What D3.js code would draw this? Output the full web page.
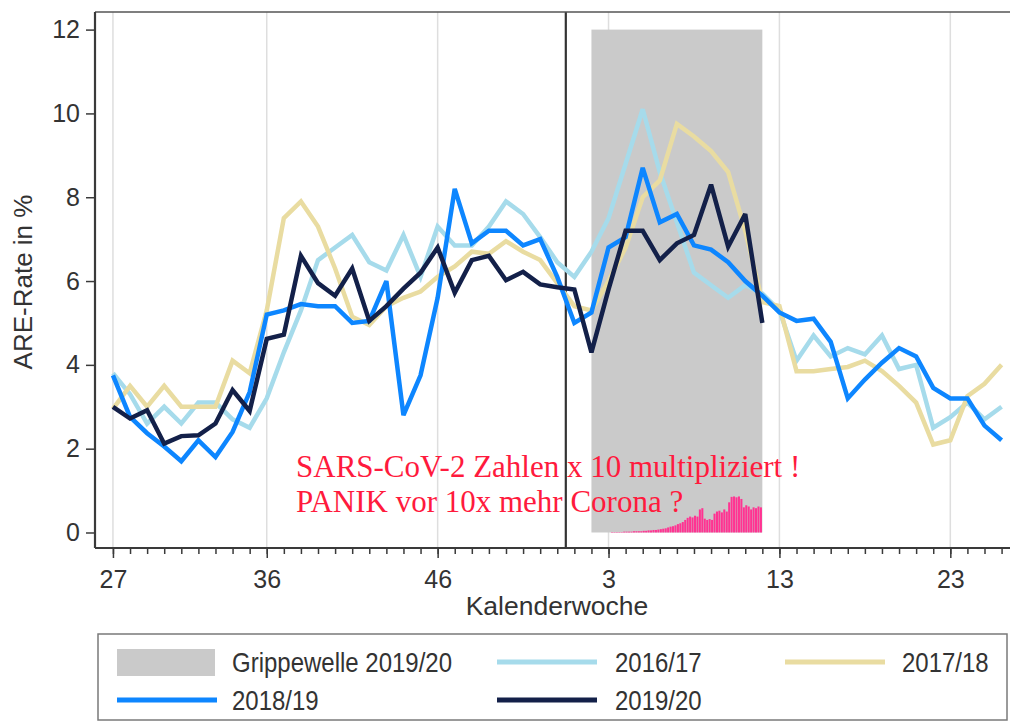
<!DOCTYPE html>
<html><head><meta charset="utf-8">
<script src="https://cdn.jsdelivr.net/npm/d3@7"></script>
<style>body{margin:0;background:#fff}svg{display:block}</style>
</head><body><svg id="c" width="1010" height="722"></svg>
<script>
// Calendar weeks (season runs week 27 .. 53, then 1 .. 26)
const weeks = [27,28,29,30,31,32,33,34,35,36,37,38,39,40,41,42,43,44,45,46,47,48,49,50,51,52,53,
  1,2,3,4,5,6,7,8,9,10,11,12,13,14,15,16,17,18,19,20,21,22,23,24,25,26];
const tickWeeks = [27,36,46,3,13,23];
const yTicks = [0,2,4,6,8,10,12];

const s1617 = [3.8,3.3,2.6,3.0,2.6,3.1,3.1,2.7,2.5,3.2,4.3,5.3,6.5,6.8,7.1,6.45,6.25,7.1,6.1,7.3,6.85,6.85,7.3,7.9,7.6,7.05,6.45,6.1,6.7,7.5,8.8,10.1,8.6,7.4,6.2,5.9,5.6,5.9,5.7,5.3,4.1,4.7,4.2,4.4,4.25,4.7,3.9,4.0,2.5,2.75,3.1,2.7,3.0];
const s1718 = [2.95,3.5,3.0,3.5,3.0,3.0,3.0,4.1,3.8,5.3,7.5,7.9,7.3,6.3,5.15,4.95,5.4,5.6,5.75,6.1,6.35,6.7,6.65,6.95,6.7,6.5,5.95,5.4,5.3,6.0,6.8,8.0,8.4,9.75,9.45,9.1,8.6,7.2,5.5,5.4,3.85,3.85,3.9,3.95,4.1,3.85,3.5,3.1,2.1,2.2,3.25,3.55,4.0];
const s1819 = [3.75,2.76,2.37,2.05,1.7,2.2,1.8,2.4,3.35,5.2,5.3,5.45,5.4,5.4,5.0,5.05,6.0,2.8,3.75,5.6,8.2,6.9,7.2,7.2,6.85,7.0,6.1,5.0,5.25,6.8,7.05,8.7,7.4,7.6,6.85,6.75,6.45,6.0,5.65,5.25,5.05,5.1,4.55,3.2,3.65,4.05,4.4,4.2,3.45,3.2,3.2,2.55,2.2];
const s1920 = [3.0,2.72,2.92,2.12,2.3,2.32,2.6,3.4,2.9,4.62,4.72,6.6,5.95,5.65,6.3,5.05,5.4,5.82,6.2,6.8,5.72,6.5,6.6,6.02,6.22,5.92,5.85,5.8,4.3,5.8,7.2,7.2,6.5,6.9,7.1,8.3,6.82,7.6,5.0];

const seriesNames = ["2016/17","2017/18","2018/19","2019/20"];
const seriesColors = ["#a6dbeb","#e9dca1","#0d86ff","#132049"];

// Grippewelle 2019/20: from week 2 to week 12
const waveWeeks = [2,12];
// Daily SARS-CoV-2 numbers (x10), starting one day after week 3 begins
const covidStartWeek = 3;
const covid = [0.01,0.01,0.01,0.01,0.01,0.02,0.02,0.02,0.02,0.03,0.03,0.03,
  0.03,0.04,0.04,0.05,0.05,0.06,0.06,0.07,
  0.08,0.09,0.1,0.12,0.14,0.15,0.17,0.2,
  0.22,0.25,0.3,0.35,0.38,0.36,
  0.4,0.38,0.55,0.58,
  0.33,0.3,0.32,0.3,0.45,
  0.5,0.52,0.48,0.55,0.5,
  0.72,0.85,0.86,0.84,0.86,0.8,
  0.6,0.65,0.62,0.55,0.6,0.58,0.62,0.6];

const svg = d3.select("#c");
const x = d3.scaleLinear().domain([-1.05, 52.2]).range([95, 1005]);
const y = d3.scaleLinear().domain([-0.37, 12.42]).range([548, 12]);
const idx = w => w >= 27 ? weeks.indexOf(w) : weeks.lastIndexOf(w);
const axisCol = "#3a3a3a";
const font = "'Liberation Sans', Arial, sans-serif";

// vertical gridlines
svg.append("g").selectAll("line").data(tickWeeks).join("line")
  .attr("x1", d => x(idx(d))).attr("x2", d => x(idx(d)))
  .attr("y1", 12).attr("y2", 548)
  .attr("stroke", "#dedede").attr("stroke-width", 1.5);

// flu wave band
svg.append("rect")
  .attr("x", x(idx(waveWeeks[0]))).attr("width", x(idx(waveWeeks[1])) - x(idx(waveWeeks[0])))
  .attr("y", y(12)).attr("height", y(0) - y(12))
  .attr("fill", "#cacaca");

// covid bars
const dayW = x(1/7) - x(0);
svg.append("g").selectAll("rect").data(covid).join("rect")
  .attr("x", (d,i) => x(idx(covidStartWeek) + (i+1)/7))
  .attr("width", dayW - 0.4)
  .attr("y", d => y(d)).attr("height", d => y(0) - y(d))
  .attr("fill", "#ff3392");

// annotation text
const ann = svg.append("g").attr("fill", "#ff1a3d")
  .attr("font-family", "'Liberation Serif', 'Times New Roman', serif").attr("font-size", 31);
ann.append("text").attr("x", 296).attr("y", 477).text("SARS-CoV-2 Zahlen x 10 multipliziert !");
ann.append("text").attr("x", 296).attr("y", 512).text("PANIK vor 10x mehr Corona ?");

// season boundary line
svg.append("line").attr("x1", x(26.5)).attr("x2", x(26.5)).attr("y1", 12).attr("y2", 548)
  .attr("stroke", "#333").attr("stroke-width", 2.2);

// lines
const line = d3.line().x((d,i) => x(i)).y(d => y(d));
[s1617, s1718, s1819, s1920].forEach((s, k) => {
  svg.append("path").datum(s).attr("d", line)
    .attr("fill", "none").attr("stroke", seriesColors[k]).attr("stroke-width", 4.5)
    .attr("stroke-linejoin", "miter").attr("stroke-miterlimit", 3);
});

// top frame
svg.append("line").attr("x1", 95).attr("x2", 1010).attr("y1", 12).attr("y2", 12)
  .attr("stroke", "#555").attr("stroke-width", 1.5);

// y axis
const gy = svg.append("g").attr("transform", "translate(95,0)")
  .call(d3.axisLeft(y).tickValues(yTicks).tickSize(9).tickPadding(6));
gy.select(".domain").attr("d", "M0,12V548").attr("stroke", axisCol).attr("stroke-width", 2.2);
gy.selectAll(".tick line").attr("stroke", axisCol).attr("stroke-width", 1.5);
gy.selectAll("text").attr("font-family", font).attr("font-size", 25).attr("fill", "#333");

// x axis minor ticks
const gxm = svg.append("g").attr("transform", "translate(0,548)")
  .call(d3.axisBottom(x).tickValues(d3.range(weeks.length)).tickSize(6).tickFormat(""));
gxm.select(".domain").remove();
gxm.selectAll(".tick line").attr("stroke", axisCol).attr("stroke-width", 1.5);
// x axis major
const gx = svg.append("g").attr("transform", "translate(0,548)")
  .call(d3.axisBottom(x).tickValues(tickWeeks.map(idx)).tickSize(10).tickPadding(12)
    .tickFormat(i => weeks[i]));
gx.select(".domain").attr("d", "M95,0H1010").attr("stroke", axisCol).attr("stroke-width", 2.2);
gx.selectAll(".tick line").attr("stroke", axisCol).attr("stroke-width", 1.5);
gx.selectAll("text").attr("font-family", font).attr("font-size", 25).attr("fill", "#333");

// axis titles
svg.append("text").attr("x", 557).attr("y", 615).attr("text-anchor", "middle")
  .attr("font-family", font).attr("font-size", 26.5).attr("fill", "#333").text("Kalenderwoche");
svg.append("text").attr("transform", "translate(32,282) rotate(-90)").attr("text-anchor", "middle")
  .attr("font-family", font).attr("font-size", 26).attr("fill", "#333").text("ARE-Rate in %");

// legend
const lg = svg.append("g");
lg.append("rect").attr("x", 98).attr("y", 634).attr("width", 909).attr("height", 86)
  .attr("fill", "#fff").attr("stroke", "#7a7a7a").attr("stroke-width", 1.5);
lg.append("rect").attr("x", 117).attr("y", 649).attr("width", 98).attr("height", 27).attr("fill", "#cacaca");
const legItems = [
  {name: "Grippewelle 2019/20", tx: 232, ty: 662},
  {name: seriesNames[0], col: seriesColors[0], lx: 497, tx: 615, ty: 662},
  {name: seriesNames[1], col: seriesColors[1], lx: 785, tx: 902, ty: 662},
  {name: seriesNames[2], col: seriesColors[2], lx: 117, tx: 232, ty: 700},
  {name: seriesNames[3], col: seriesColors[3], lx: 497, tx: 615, ty: 700}
];
legItems.forEach(it => {
  if (it.col) lg.append("line").attr("x1", it.lx).attr("x2", it.lx + 100).attr("y1", it.ty).attr("y2", it.ty)
    .attr("stroke", it.col).attr("stroke-width", 5);
  lg.append("text").attr("transform", `translate(${it.tx},${it.ty + 9.5}) scale(1,1.12)`)
    .attr("font-family", font).attr("font-size", 24).attr("fill", "#333").text(it.name);
});
</script></body></html>
